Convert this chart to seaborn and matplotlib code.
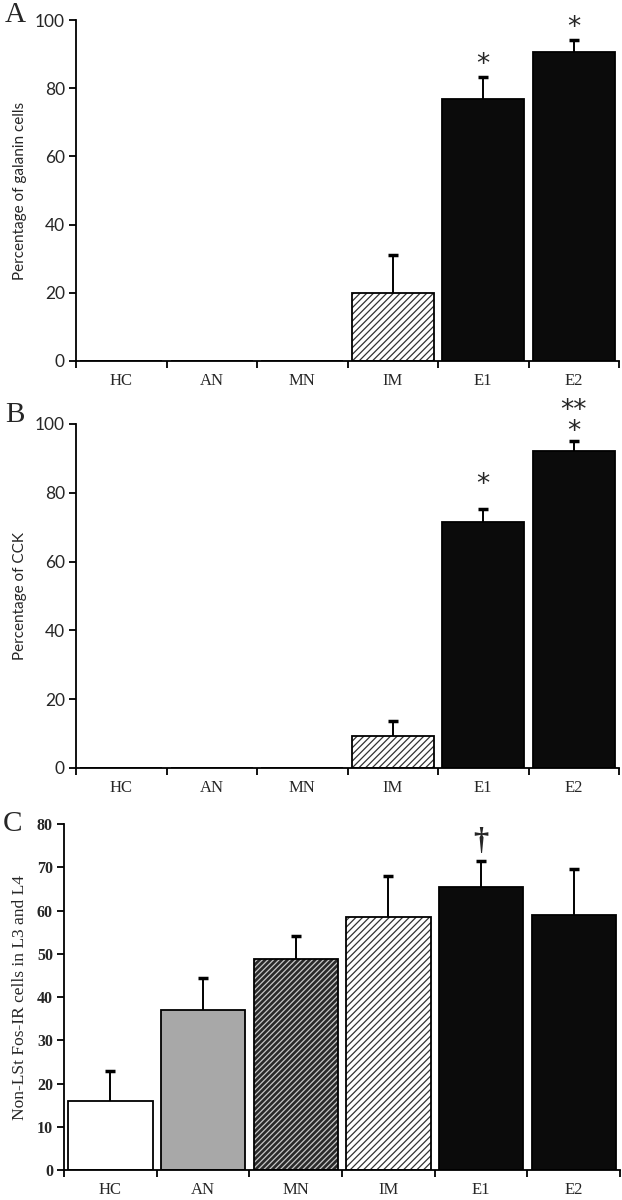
import numpy as np
import pandas as pd
import seaborn as sns
import matplotlib.pyplot as plt
import matplotlib.colors as mcolors

groups = ['HC', 'AN', 'MN', 'IM', 'E1', 'E2']

# panel A
galanin = [0, 0, 0, 19.8, 76.9, 90.7]
galanin_err = [0, 0, 0, 11.2, 6.4, 3.4]
# panel B
cck = [0, 0, 0, 9.3, 71.4, 92.0]
cck_err = [0, 0, 0, 4.4, 3.9, 3.0]
# panel C
fos = [16.0, 37.0, 48.8, 58.5, 65.4, 58.9]
fos_err = [6.9, 7.3, 5.3, 9.5, 6.0, 10.6]

sns.set_theme(style="white")
plt.rcParams['font.family'] = ['Liberation Serif', 'DejaVu Serif']
plt.rcParams['hatch.linewidth'] = 0.9

# bar styles per group: face, hatch, hatch colour
styles = {
    'HC': ('white', '', 'black'),
    'AN': ('#a8a8a8', '', 'black'),
    'MN': ('#2a2a2a', '//////', '#c8c8c8'),
    'IM': ('white', '/////', '#333333'),
    'E1': ('#0b0b0b', '', 'black'),
    'E2': ('#0b0b0b', '', 'black'),
}


def panel(ax, values, errs, ymax, ystep, ylabel, ylabel_font, ytick_font):
    df = pd.DataFrame({'group': groups, 'value': values})
    pal = {g: styles[g][0] for g in groups}
    sns.barplot(data=df, x='group', y='value', hue='group', palette=pal,
                legend=False, width=0.91, edgecolor='black', linewidth=1.3,
                saturation=1, errorbar=None, ax=ax)
    for p, g in zip(ax.patches, groups):
        face, hatch, hcol = styles[g]
        if hatch:
            p.set_hatch(hatch)
            if hasattr(p, 'set_hatchcolor'):
                p.set_hatchcolor(hcol)
            else:
                p._hatch_color = mcolors.to_rgba(hcol)

    # upper error bars only
    idx = [i for i, e in enumerate(errs) if e > 0]
    eb = ax.errorbar(idx, [values[i] for i in idx],
                     yerr=[[0] * len(idx), [errs[i] for i in idx]],
                     fmt='none', ecolor='black', elinewidth=1.4,
                     capsize=3.5, capthick=2.5, zorder=5)
    caps = eb.lines[1]
    if len(caps) > 1:
        caps[0].set_visible(False)

    ax.set_xlim(-0.5, 5.5)
    ax.set_ylim(0, ymax)
    ax.set_yticks(np.arange(0, ymax + 1, ystep))
    ax.set_xticks(range(6))
    ax.set_xticklabels(groups)
    ax.set_xticks(np.arange(-0.5, 6, 1), minor=True)
    ax.tick_params(axis='x', which='major', length=0, pad=9, labelsize=12)
    ax.tick_params(axis='x', which='minor', length=5, width=1.3,
                   direction='out', bottom=True, color='black')
    ax.tick_params(axis='y', length=5, width=1.3, direction='out',
                   left=True, color='black', pad=3)
    for t in ax.get_yticklabels():
        t.set(**ytick_font)
    ax.set_xlabel('')
    ax.set_ylabel(ylabel, labelpad=6, **ylabel_font)
    sns.despine(ax=ax)
    for s in ['left', 'bottom']:
        ax.spines[s].set_color('black')
        ax.spines[s].set_linewidth(1.3)


fig = plt.figure(figsize=(6.22, 12), dpi=100)
axA = fig.add_axes([0.1222, 0.6992, 0.873, 0.2841])
axB = fig.add_axes([0.1222, 0.36, 0.873, 0.2867])
axC = fig.add_axes([0.1029, 0.025, 0.894, 0.2883])

sans_lab = dict(family=['Lato', 'DejaVu Sans'], fontsize=11)
sans_tick = dict(family=['Lato', 'DejaVu Sans'], fontsize=12.5)
panel(axA, galanin, galanin_err, 100, 20, 'Percentage of galanin cells',
      sans_lab, sans_tick)
panel(axB, cck, cck_err, 100, 20, 'Percentage of CCK', sans_lab, sans_tick)
panel(axC, fos, fos_err, 80, 10, 'Non-LSt Fos-IR cells in L3 and L4',
      dict(fontsize=12.5), dict(fontsize=11.5, fontweight='bold'))

# significance marks
star = dict(ha='center', va='center', fontsize=19, family='DejaVu Sans',
            clip_on=False)
axA.text(4, 86.8, '*', **star)
axA.text(5, 97.6, '*', **star)
axB.text(4, 82.3, '*', **star)
axB.text(5, 100.8, '**\n*', linespacing=0.75, **star)
axC.text(4, 76.0, '\u2020', ha='center', va='center', fontsize=22,
         fontweight='bold', clip_on=False)

fig.text(0.024, 0.9875, 'A', fontsize=21, ha='center', va='center')
fig.text(0.024, 0.654, 'B', fontsize=21, ha='center', va='center')
fig.text(0.020, 0.313, 'C', fontsize=21, ha='center', va='center')

fig.savefig('out.png', dpi=100)
